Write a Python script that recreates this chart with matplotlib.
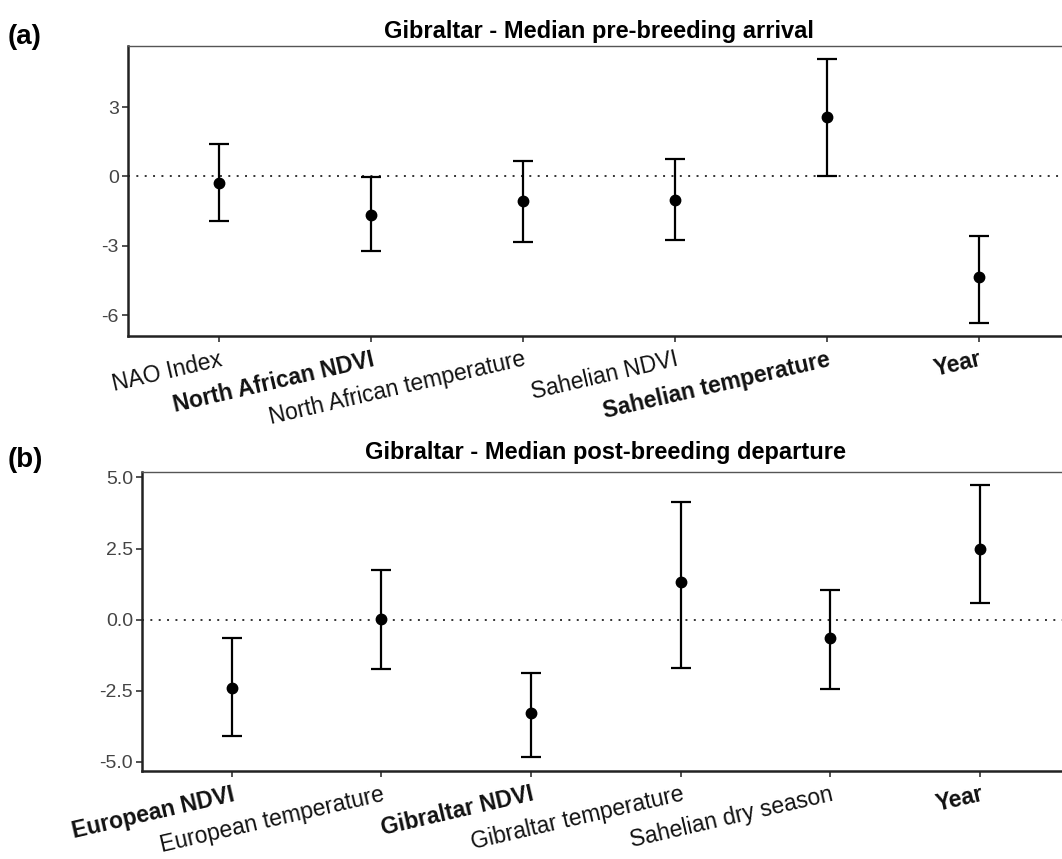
import matplotlib.pyplot as plt
import numpy as np

plt.rcParams['font.family'] = ['Liberation Sans', 'DejaVu Sans']

# (a) pre-breeding arrival
arr_labels = ["NAO Index", "North African NDVI", "North African temperature",
              "Sahelian NDVI", "Sahelian temperature", "Year"]
arr_bold = [False, True, False, False, True, True]
arr_est = [-0.28, -1.68, -1.05, -1.02, 2.59, -4.34]
arr_lo = [-1.94, -3.23, -2.83, -2.77, 0.02, -6.34]
arr_hi = [1.38, -0.03, 0.65, 0.76, 5.07, -2.56]

# (b) post-breeding departure
dep_labels = ["European NDVI", "European temperature", "Gibraltar NDVI",
              "Gibraltar temperature", "Sahelian dry season", "Year"]
dep_bold = [True, False, True, False, False, True]
dep_est = [-2.41, 0.01, -3.29, 1.33, -0.64, 2.47]
dep_lo = [-4.09, -1.73, -4.84, -1.70, -2.45, 0.58]
dep_hi = [-0.63, 1.73, -1.88, 4.13, 1.03, 4.72]

fig = plt.figure(figsize=(10.62, 8.59), dpi=100)
ax1 = fig.add_axes([0.1205, 0.6088, 0.887, 0.3376])
ax2 = fig.add_axes([0.1337, 0.1024, 0.8738, 0.3484])


def panel(ax, labels, bold, est, lo, hi, yticks, fmt, title, tpad):
    x = np.arange(len(labels))
    est = np.array(est)
    err = [est - np.array(lo), np.array(hi) - est]
    ax.axhline(0, color='#333333', lw=1.4, ls=(0, (1, 3.3)), zorder=1)
    ax.errorbar(x, est, yerr=err, fmt='o', color='black', ms=7.5,
                elinewidth=1.6, capsize=7.5, capthick=1.6, zorder=3)
    ax.set_xlim(-0.6, len(labels) - 0.4)
    span = max(hi) - min(lo)
    ax.set_ylim(min(lo) - 0.05 * span, max(hi) + 0.05 * span)
    ax.set_yticks(yticks)
    ax.set_yticklabels([fmt.format(v) for v in yticks])
    ax.set_xticks(x)
    ax.set_xticklabels(labels, rotation=13, ha='right', va='top',
                       rotation_mode='anchor')
    for t, b in zip(ax.get_xticklabels(), bold):
        t.set_fontweight('bold' if b else 'normal')
        t.set_fontsize(16.5)
        t.set_color('#111111')
    ax.tick_params(axis='y', labelsize=14, labelcolor='#444444',
                   length=4.5, width=1.2, color='#333333', pad=2)
    ax.tick_params(axis='x', length=4.5, width=1.2, color='#333333', pad=4)
    for s in ['left', 'bottom']:
        ax.spines[s].set_linewidth(1.8)
        ax.spines[s].set_color('#222222')
    ax.spines['top'].set_linewidth(1.0)
    ax.spines['top'].set_color('#555555')
    ax.spines['right'].set_visible(False)
    ax.set_title(title, fontsize=17, fontweight='bold', pad=tpad)


panel(ax1, arr_labels, arr_bold, arr_est, arr_lo, arr_hi,
      [-6, -3, 0, 3], "{:g}", "Gibraltar - Median pre-breeding arrival", 6)
panel(ax2, dep_labels, dep_bold, dep_est, dep_lo, dep_hi,
      [-5.0, -2.5, 0.0, 2.5, 5.0], "{:.1f}",
      "Gibraltar - Median post-breeding departure", 9)

fig.text(0.007, 1 - 37 / 859, "(a)", fontsize=20, fontweight='bold', va='center')
fig.text(0.007, 1 - 460 / 859, "(b)", fontsize=20, fontweight='bold', va='center')

fig.savefig("out.png", dpi=100)
